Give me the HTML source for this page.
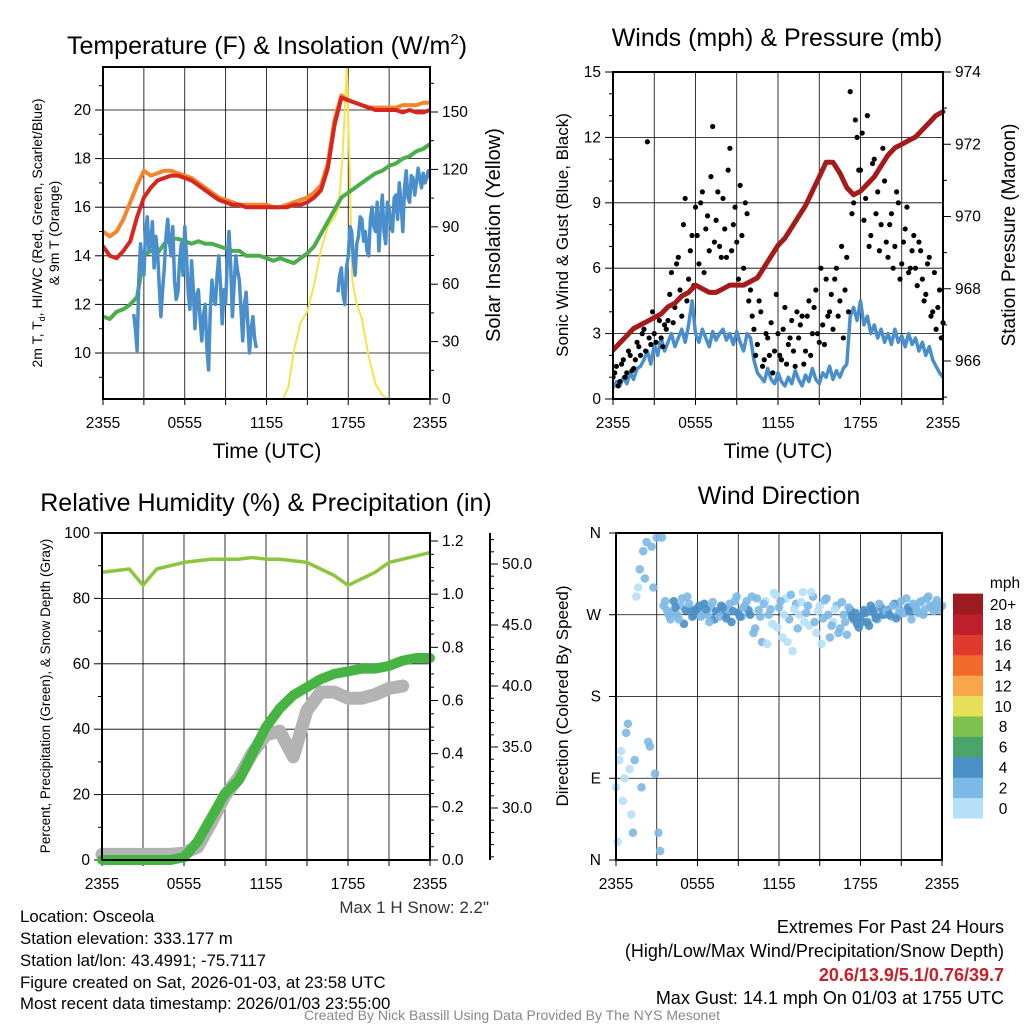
<!DOCTYPE html>
<html><head><meta charset="utf-8">
<style>
html,body{margin:0;padding:0;background:#fff;}
svg{display:block;font-family:"Liberation Sans",Arial,sans-serif;}
</style></head>
<body>
<svg id="chart" width="1024" height="1024" viewBox="0 0 1024 1024" xmlns="http://www.w3.org/2000/svg">
<rect width="1024" height="1024" fill="#fff"/>
<g id="layer"></g>
<!-- Titles -->
<text x="267" y="54" font-size="25" text-anchor="middle">Temperature (F) &amp; Insolation (W/m<tspan dy="-10" font-size="15">2</tspan><tspan dy="10">)</tspan></text>
<text x="777" y="46" font-size="25" text-anchor="middle">Winds (mph) &amp; Pressure (mb)</text>
<text x="266" y="511" font-size="25" text-anchor="middle">Relative Humidity (%) &amp; Precipitation (in)</text>
<text x="779" y="504" font-size="25" text-anchor="middle">Wind Direction</text>
<!-- axis titles -->
<text x="267" y="458" font-size="21" text-anchor="middle">Time (UTC)</text>
<text x="778" y="458" font-size="21" text-anchor="middle">Time (UTC)</text>
<g transform="translate(42,233) rotate(-90)" font-size="14" text-anchor="middle">
<text x="0" y="0">2m T, T<tspan font-size="9" dy="3">d</tspan><tspan dy="-3">, HI/WC (Red, Green, Scarlet/Blue)</tspan></text>
<text x="0" y="17">&amp; 9m T (Orange)</text></g>
<text transform="translate(500,235) rotate(-90)" font-size="20" text-anchor="middle">Solar Insolation (Yellow)</text>
<text transform="translate(568,235) rotate(-90)" font-size="17" text-anchor="middle">Sonic Wind &amp; Gust (Blue, Black)</text>
<text transform="translate(1015,235) rotate(-90)" font-size="19" text-anchor="middle">Station Pressure (Maroon)</text>
<text transform="translate(50,696) rotate(-90)" font-size="13.5" text-anchor="middle">Percent, Precipitation (Green), &amp; Snow Depth (Gray)</text>
<text transform="translate(568,696) rotate(-90)" font-size="17" text-anchor="middle">Direction (Colored By Speed)</text>
<!-- footer -->
<text x="489" y="913" font-size="17" fill="#333" text-anchor="end">Max 1 H Snow: 2.2"</text>
<g font-size="16.8">
<text x="20" y="922">Location: Osceola</text>
<text x="20" y="944">Station elevation: 333.177 m</text>
<text x="20" y="966">Station lat/lon: 43.4991; -75.7117</text>
<text x="20" y="988">Figure created on Sat, 2026-01-03, at 23:58 UTC</text>
<text x="20" y="1009">Most recent data timestamp: 2026/01/03 23:55:00</text>
</g>
<g font-size="18" text-anchor="end">
<text x="1004" y="933">Extremes For Past 24 Hours</text>
<text x="1004" y="957">(High/Low/Max Wind/Precipitation/Snow Depth)</text>
<text x="1004" y="981" fill="#c8202a" font-weight="bold">20.6/13.9/5.1/0.76/39.7</text>
<text x="1004" y="1004">Max Gust: 14.1 mph On 01/03 at 1755 UTC</text>
</g>
<text x="512" y="1020" font-size="14" fill="#888" text-anchor="middle">Created By Nick Bassill Using Data Provided By The NYS Mesonet</text>
</svg>
<script>
// ---------- data ----------
const timeTicks = ["2355","0555","1155","1755","2355"];
// Panel 1 (0.5 h steps from 0 to 24)
const tempRed = [14.4,14.0,13.9,14.2,14.6,15.6,16.4,16.8,17.1,17.2,17.3,17.3,17.2,17.1,16.9,16.7,16.5,16.3,16.2,16.1,16.1,16.0,16.0,16.0,16.0,16.0,16.0,16.0,16.1,16.1,16.2,16.4,16.7,17.6,19.4,20.5,20.4,20.3,20.2,20.1,20.0,20.0,20.0,20.0,19.9,20.0,19.9,19.9,20.0];
const tempOrange = [15.0,14.8,15.0,15.5,16.2,16.9,17.5,17.3,17.4,17.5,17.5,17.4,17.3,17.2,17.0,16.8,16.6,16.4,16.3,16.2,16.1,16.1,16.1,16.1,16.1,16.0,16.0,16.1,16.2,16.3,16.4,16.6,16.9,17.8,19.6,20.6,20.4,20.3,20.2,20.1,20.1,20.1,20.1,20.1,20.2,20.2,20.2,20.3,20.3];
const dewGreen = [11.5,11.4,11.7,11.8,12.0,12.3,14.0,14.2,14.1,14.5,14.7,14.7,14.6,14.5,14.6,14.5,14.5,14.4,14.3,14.2,14.2,14.0,14.0,14.0,13.9,13.8,13.9,13.8,13.7,13.9,14.1,14.4,14.9,15.4,15.9,16.4,16.6,16.8,17.0,17.2,17.4,17.5,17.7,17.8,18.0,18.1,18.3,18.4,18.6];
// wind chill segments (0.125 h steps)
const chillStart1 = 2.25;
const chill1 = [11.6,11.0,10.1,13.0,14.5,13.8,13.2,15.0,15.6,14.2,14.5,15.4,13.5,14.8,14.2,12.8,11.5,12.6,13.5,14.8,15.5,14.6,14.0,15.2,13.0,12.2,12.5,13.8,14.5,13.2,15.2,14.0,12.5,11.8,13.8,12.6,11.0,12.4,12.6,11.4,10.5,11.6,12.0,10.2,9.3,11.8,13.0,12.2,12.0,13.2,14.0,12.8,11.2,12.6,12.0,13.8,15.0,13.6,11.5,12.8,14.0,13.4,13.0,11.8,10.5,12.0,12.5,11.2,10.0,11.0,11.5,10.6,10.2];
const chillStart2 = 17.25;
const chill2 = [12.5,13.2,13.5,12.4,12.0,13.5,14.0,15.2,15.0,13.8,13.2,14.5,14.8,15.6,15.5,14.6,15.0,14.2,14.0,15.5,16.0,15.2,15.0,16.2,14.2,15.5,16.5,15.0,14.5,16.2,16.0,15.2,15.0,16.4,16.5,15.5,17.0,16.2,15.0,16.8,17.5,16.4,16.2,17.3,17.2,16.5,17.0,17.6,17.2,16.8,17.4,17.0,17.2,17.5,17.2];
// solar insolation
const solarT = [0,13.2,13.6,14.0,14.5,15.0,15.5,16.0,16.5,17.0,17.3,17.6,17.9,18.1,18.3,18.6,19.0,19.5,20.0,20.5,21.0,24];
const solarV = [0,0,6,25,40,46,60,78,90,95,100,130,173,120,62,50,42,22,8,2,0,0];
// Panel 2 (pressure 0.5 h steps, wind/gust 0.25 h steps)
const pressure = [966.3,966.5,966.7,966.9,967.0,967.1,967.2,967.3,967.5,967.6,967.8,967.9,968.1,968.0,967.9,967.9,968.0,968.1,968.1,968.1,968.2,968.3,968.6,968.9,969.2,969.4,969.7,970.0,970.3,970.7,971.1,971.5,971.5,971.2,970.8,970.6,970.7,970.9,971.1,971.4,971.7,971.9,972.0,972.1,972.2,972.4,972.6,972.8,972.9];
const windSpd = [0.5,0.8,0.6,1.0,0.7,1.2,0.9,1.4, 1.5,1.8,2.2,1.6,2.5,2.0,2.8,2.2, 2.6,3.0,2.4,2.8,3.2,2.6,3.4,4.5, 3.0,2.6,3.2,2.8,2.4,3.1,2.7,3.0, 3.2,2.7,3.0,2.5,3.1,2.6,2.2,3.0, 2.8,1.8,1.2,1.0,0.8,1.4,0.9,0.7, 1.2,0.8,0.6,1.0,0.7,1.3,0.9,0.6, 1.1,0.8,1.4,0.9,0.7,1.2,1.0,1.5, 0.9,1.3,1.0,1.4,1.6,3.8,4.2,3.6, 4.5,3.4,3.8,3.0,3.4,2.8,3.2,2.6, 3.0,2.5,3.2,2.6,2.9,2.4,3.0,2.5, 2.8,2.2,2.6,2.0,2.4,1.8,1.5,1.2,1.0];
const gustA = [1.0,1.5,0.8,1.8,1.2,2.0,1.4,2.6, 2.0,3.2,11.8,2.5,3.0,3.8,2.8,3.4, 3.6,5.8,4.2,6.5,3.8,9.2,5.5,7.5, 8.8,6.2,9.5,7.8,6.8,12.5,8.2,7.0, 9.2,6.5,11.5,8.0,7.2,9.8,6.0,8.5, 5.0,3.2,2.5,4.0,1.8,2.8,3.5,2.2, 3.0,1.8,4.2,2.5,3.6,1.5,2.8,3.8, 2.2,4.5,3.0,5.0,2.6,3.4,5.5,4.0, 3.2,6.0,4.5,2.8,6.5,14.1,9.0,12.0, 10.5,8.2,13.0,7.5,11.0,9.5,8.0,10.0, 6.5,8.5,7.0,9.0,6.2,7.8,5.8,6.8, 6.0,7.2,5.5,4.8,6.5,4.0,3.2,5.0,3.5];
const gustB = [1.2,0.6,1.6,1.0,2.2,1.3,1.8,2.4, 3.0,2.2,2.8,4.0,2.6,3.6,2.4,3.2, 4.8,3.5,6.2,5.0,8.0,4.5,6.8,5.2, 7.5,9.0,5.8,8.4,10.2,7.2,9.5,6.5, 7.8,10.5,6.8,8.8,5.5,7.5,9.0,4.5, 3.8,2.0,4.5,1.5,3.0,2.0,1.2,4.8, 2.0,3.2,1.6,2.8,2.2,4.0,3.4,1.6, 3.8,2.0,4.2,3.0,6.0,2.5,3.8,4.8, 5.5,3.8,7.0,5.0,4.0,8.5,12.8,10.5, 12.2,9.2,7.0,10.8,8.5,6.8,11.5,7.2, 8.0,6.0,9.5,5.5,7.2,8.8,6.0,7.5, 5.2,6.8,4.5,6.2,3.8,5.8,4.2,2.8];
// Panel 3 (hourly)
const relHum = [88,88.5,89,84,89,90,91,91.5,92,92,92,92.5,92,92,91.5,91,89,87,84,86,88,91,92,93,94];
const precip = [0,0,0,0,0,0,0.01,0.07,0.16,0.25,0.30,0.40,0.50,0.57,0.62,0.65,0.68,0.70,0.71,0.72,0.72,0.73,0.75,0.76,0.76];
const snowDepth = [26.2,26.2,26.2,26.2,26.2,26.2,26.3,26.8,28.8,31.0,32.5,34.5,36.0,36.3,34.2,38.0,39.5,39.5,39.0,39.0,39.3,39.8,40.0];
// Panel 4 (0.25 h steps; B offset by 0.125 h)
const dirA = [80,110,65,140,100,30,290,320, 340,350,125,300,355,10,280,275, 265,285,270,280,260,290,275,270, 275,268,282,270,278,265,272,280, 270,276,262,285,272,268,280,275, 290,255,275,240,285,270,260,292, 278,245,288,265,230,282,270,295, 272,258,290,250,280,266,288,245, 262,280,255,270,248,275,265,260, 268,275,262,280,272,265,278,270, 275,268,282,270,285,272,278,265, 280,272,285,276,290,278,282,275,280];
const dirB = [20,120,90,150,50,110,300,80, 310,130,345,95,30,355,285,270, 272,278,265,288,275,282,268,276, 280,270,276,262,284,274,268,278, 266,282,274,290,268,278,285,270, 250,288,268,282,238,276,294,256, 285,270,240,292,276,255,284,262, 280,295,262,274,238,286,270,258, 276,250,284,262,278,268,272,256, 262,272,258,276,266,282,270,274, 270,280,266,276,272,288,274,282, 276,284,270,288,280,274,286,278];
const speedColors = ["#b6e0f7","#7db9e6","#4a8fc6","#4aa56b","#7dc24e","#e8e05a","#f9a64a","#f26a2a","#e03a2c","#bf1e2d","#9b1b1e"];
const speedLabels = ["0","2","4","6","8","10","12","14","16","18","20+"];

// ---------- helpers ----------
const NS = "http://www.w3.org/2000/svg";
const layer = document.getElementById("layer");
function mk(tag, attrs, parent){
  const e = document.createElementNS(NS, tag);
  for (const k in attrs) e.setAttribute(k, attrs[k]);
  (parent||layer).appendChild(e);
  return e;
}
function lin(d0,d1,r0,r1){ return v => r0 + (v-d0)*(r1-r0)/(d1-d0); }
function pathFrom(xs, ys){ return xs.map((x,i)=>(i?"L":"M")+x.toFixed(1)+","+ys[i].toFixed(1)).join(""); }
function timeAxis(sx, y0, y1, name){
  for (let i=0;i<=8;i++){
    const x = sx(i*3);
    const gl = mk("line",{x1:x,x2:x,y1:y0,y2:y1,stroke:"#000","stroke-width":0.8});
    
    
    mk("line",{x1:x,x2:x,y1:y1,y2:y1+6,stroke:"#000","stroke-width":1});
  }
  timeTicks.forEach((t,i)=>{
    const tx = mk("text",{x:sx(i*6),y:y1+29,"font-size":15.5,"text-anchor":"middle"});
    tx.textContent = t;
    
    
  });
}
function yTicks(vals, sy, xAxis, side, labelFn, minor, grid, x0, x1, name){
  vals.forEach(v=>{
    const y = sy(v);
    if (grid) { const g = mk("line",{x1:x0,x2:x1,y1:y,y2:y,stroke:"#000","stroke-width":0.8});
        }
    mk("line",{x1:xAxis,x2:xAxis+side*8,y1:y,y2:y,stroke:"#000","stroke-width":1});
    const t = mk("text",{x:xAxis+side*12,y:y+5,"font-size":15.5,"text-anchor":side<0?"end":"start"});
    t.textContent = labelFn(v);
    
    
  });
  (minor||[]).forEach(v=>{ const y=sy(v); mk("line",{x1:xAxis,x2:xAxis+side*4,y1:y,y2:y,stroke:"#000","stroke-width":1}); });
}
function frame(x0,y0,x1,y1,name){
  const r = mk("rect",{x:x0,y:y0,width:x1-x0,height:y1-y0,fill:"none",stroke:"#000","stroke-width":2});
  
  
}
function range(n, start, step){ return Array.from({length:n},(_,i)=>start+i*step); }

// ---------- Panel 1 ----------
(function(){
  const X0=103,X1=430,Y0=67,Y1=399;
  const sx = lin(0,24,X0,X1);
  const sy = lin(10,20,353,110);
  const sr = lin(0,150,399,112);
  timeAxis(sx,Y0,Y1,'temp-x');
  yTicks([10,12,14,16,18,20], sy, X0, -1, v=>v, [9,11,13,15,17,19,21], true, X0, X1, 'temp-y');
  yTicks([0,30,60,90,120,150], sr, X1, 1, v=>v, [15,45,75,105,135,165], false, X0, X1, 'solar-y');
  const clip = mk("clipPath",{id:"c1"}); mk("rect",{x:X0,y:Y0,width:X1-X0,height:Y1-Y0},clip);
  const g = mk("g",{"clip-path":"url(#c1)"});
  const t05 = range(49,0,0.5);
  let p;
  p = mk("path",{d:pathFrom(solarT.map(sx), solarV.map(sr)),fill:"none",stroke:"#f6e34a","stroke-width":2},g);
   
  p = mk("path",{d:pathFrom(t05.map(sx), dewGreen.map(sy)),fill:"none",stroke:"#4cae4a","stroke-width":4,"stroke-linejoin":"round"},g);
   
  p = mk("path",{d:pathFrom(range(chill1.length,chillStart1,0.125).map(sx), chill1.map(sy)),fill:"none",stroke:"#4a8fcb","stroke-width":3.5,"stroke-linejoin":"round"},g);
   
  p = mk("path",{d:pathFrom(range(chill2.length,chillStart2,0.125).map(sx), chill2.map(sy)),fill:"none",stroke:"#4a8fcb","stroke-width":3.5,"stroke-linejoin":"round"},g);
   
  p = mk("path",{d:pathFrom(t05.map(sx), tempOrange.map(sy)),fill:"none",stroke:"#f5852c","stroke-width":4,"stroke-linejoin":"round"},g);
   
  p = mk("path",{d:pathFrom(t05.map(sx), tempRed.map(sy)),fill:"none",stroke:"#d7261e","stroke-width":4,"stroke-linejoin":"round"},g);
   
  frame(X0,Y0,X1,Y1,'temp-plot-frame');
})();

// ---------- Panel 2 ----------
(function(){
  const X0=613,X1=943,Y0=72,Y1=399;
  const sx = lin(0,24,X0,X1);
  const sy = lin(0,15,Y1,Y0);
  const sp = lin(966,974,361,72);
  timeAxis(sx,Y0,Y1,'winds-x');
  yTicks([0,3,6,9,12,15], sy, X0, -1, v=>v, [1,2,4,5,7,8,10,11,13,14], true, X0, X1, 'wind-y');
  yTicks([966,968,970,972,974], sp, X1, 1, v=>v, [965,967,969,971,973], false, X0, X1, 'pressure-y');
  const clip = mk("clipPath",{id:"c2"}); mk("rect",{x:X0,y:Y0-6,width:X1-X0+4,height:Y1-Y0+6},clip);
  const g = mk("g",{"clip-path":"url(#c2)"});
  let p = mk("path",{d:pathFrom(range(windSpd.length,0,0.25).map(sx), windSpd.map(sy)),fill:"none",stroke:"#4a8fcb","stroke-width":3.5,"stroke-linejoin":"round"},g);
   
  gustA.forEach((v,i)=>{ const c = mk("circle",{cx:sx(i*0.25),cy:sy(v),r:2.6,fill:"#000"},g);
      });
  gustB.forEach((v,i)=>{ const c = mk("circle",{cx:sx(i*0.25+0.125),cy:sy(v),r:2.6,fill:"#000"},g);
      });
  p = mk("path",{d:pathFrom(range(49,0,0.5).map(sx), pressure.map(sp)),fill:"none",stroke:"#a31b1b","stroke-width":5,"stroke-linejoin":"round","stroke-linecap":"round"},g);
   
  frame(X0,Y0,X1,Y1,'winds-plot-frame');
})();

// ---------- Panel 3 ----------
(function(){
  const X0=102,X1=430,Y0=533,Y1=860;
  const sx = lin(0,24,X0,X1);
  const sy = lin(0,100,Y1,Y0);
  const spr = lin(0,1.2,Y1,541);
  const ss = lin(30,50,808,564);
  timeAxis(sx,Y0,Y1,'humidity-x');
  yTicks([0,20,40,60,80,100], sy, X0, -1, v=>v, [10,30,50,70,90], true, X0, X1, 'humidity-y');
  yTicks([0,0.2,0.4,0.6,0.8,1.0,1.2], spr, X1, 1, v=>v.toFixed(1), [0.05,0.1,0.15,0.25,0.3,0.35,0.45,0.5,0.55,0.65,0.7,0.75,0.85,0.9,0.95,1.05,1.1,1.15], false, X0, X1, 'precip-y');
  const ax = mk("line",{x1:490,x2:490,y1:533,y2:860,stroke:"#000","stroke-width":2});
   
  yTicks([30,35,40,45,50], ss, 490, 1, v=>v.toFixed(1), [26,27,28,29,31,32,33,34,36,37,38,39,41,42,43,44,46,47,48,49,51,52], false, X0, X1, 'snow-y');
  const hr = range(25,0,1);
  let p = mk("path",{d:pathFrom(range(snowDepth.length,0,1).map(sx), snowDepth.map(ss)),fill:"none",stroke:"#b3b3b3","stroke-width":13,"stroke-linejoin":"round","stroke-linecap":"round"});
   
  p = mk("path",{d:pathFrom(hr.map(sx), precip.map(spr)),fill:"none",stroke:"#46b443","stroke-width":10,"stroke-linejoin":"round","stroke-linecap":"round"});
   
  p = mk("path",{d:pathFrom(hr.map(sx), relHum.map(sy)),fill:"none",stroke:"#8cc63f","stroke-width":3.5,"stroke-linejoin":"round"});
   
  frame(X0,Y0,X1,Y1,'humidity-plot-frame');
})();

// ---------- Panel 4 ----------
(function(){
  const X0=616,X1=942,Y0=533,Y1=860;
  const sx = lin(0,24,X0,X1);
  const sd = lin(0,360,Y1,Y0);
  timeAxis(sx,Y0,Y1,'direction-x');
  const dirLabels = ["N","E","S","W","N"];
  [0,90,180,270,360].forEach((v,i)=>{
    const y = sd(v);
    if (i>0 && i<4){ const gl=mk("line",{x1:X0,x2:X1,y1:y,y2:y,stroke:"#000","stroke-width":0.8});
        }
    mk("line",{x1:X0,x2:X0-7,y1:y,y2:y,stroke:"#000","stroke-width":1});
    const t = mk("text",{x:X0-15,y:y+5,"font-size":15.5,"text-anchor":"end"});
    t.textContent = dirLabels[i];
     
  });
  function col(s){ return speedColors[Math.max(0,Math.min(10,Math.round(s/2)))]; }
  dirA.forEach((d,i)=>{ const c = mk("circle",{cx:sx(i*0.25),cy:sd(d),r:4.3,fill:col(windSpd[i]),opacity:0.9});
      });
  dirB.forEach((d,i)=>{ const c = mk("circle",{cx:sx(i*0.25+0.125),cy:sd(d),r:4.3,fill:col(windSpd[i]),opacity:0.9});
      });
  frame(X0,Y0,X1,Y1,'direction-plot-frame');
  // colorbar
  const cb = mk("g",{});
   
  const h = 20.4;
  speedColors.forEach((c,i)=>{
    const y = 818 - (i+1)*h;
    const r = mk("rect",{x:953,y:y,width:30,height:h+0.5,fill:c},cb);
     
    const t = mk("text",{x:1003,y:y+h/2+6,"font-size":15.5,"text-anchor":"middle"},cb);
    t.textContent = speedLabels[i];
     
  });
  const mt = mk("text",{x:1005,y:588,"font-size":15.5,"text-anchor":"middle"},cb);
  mt.textContent = "mph";
   
})();
</script>
</body></html>
